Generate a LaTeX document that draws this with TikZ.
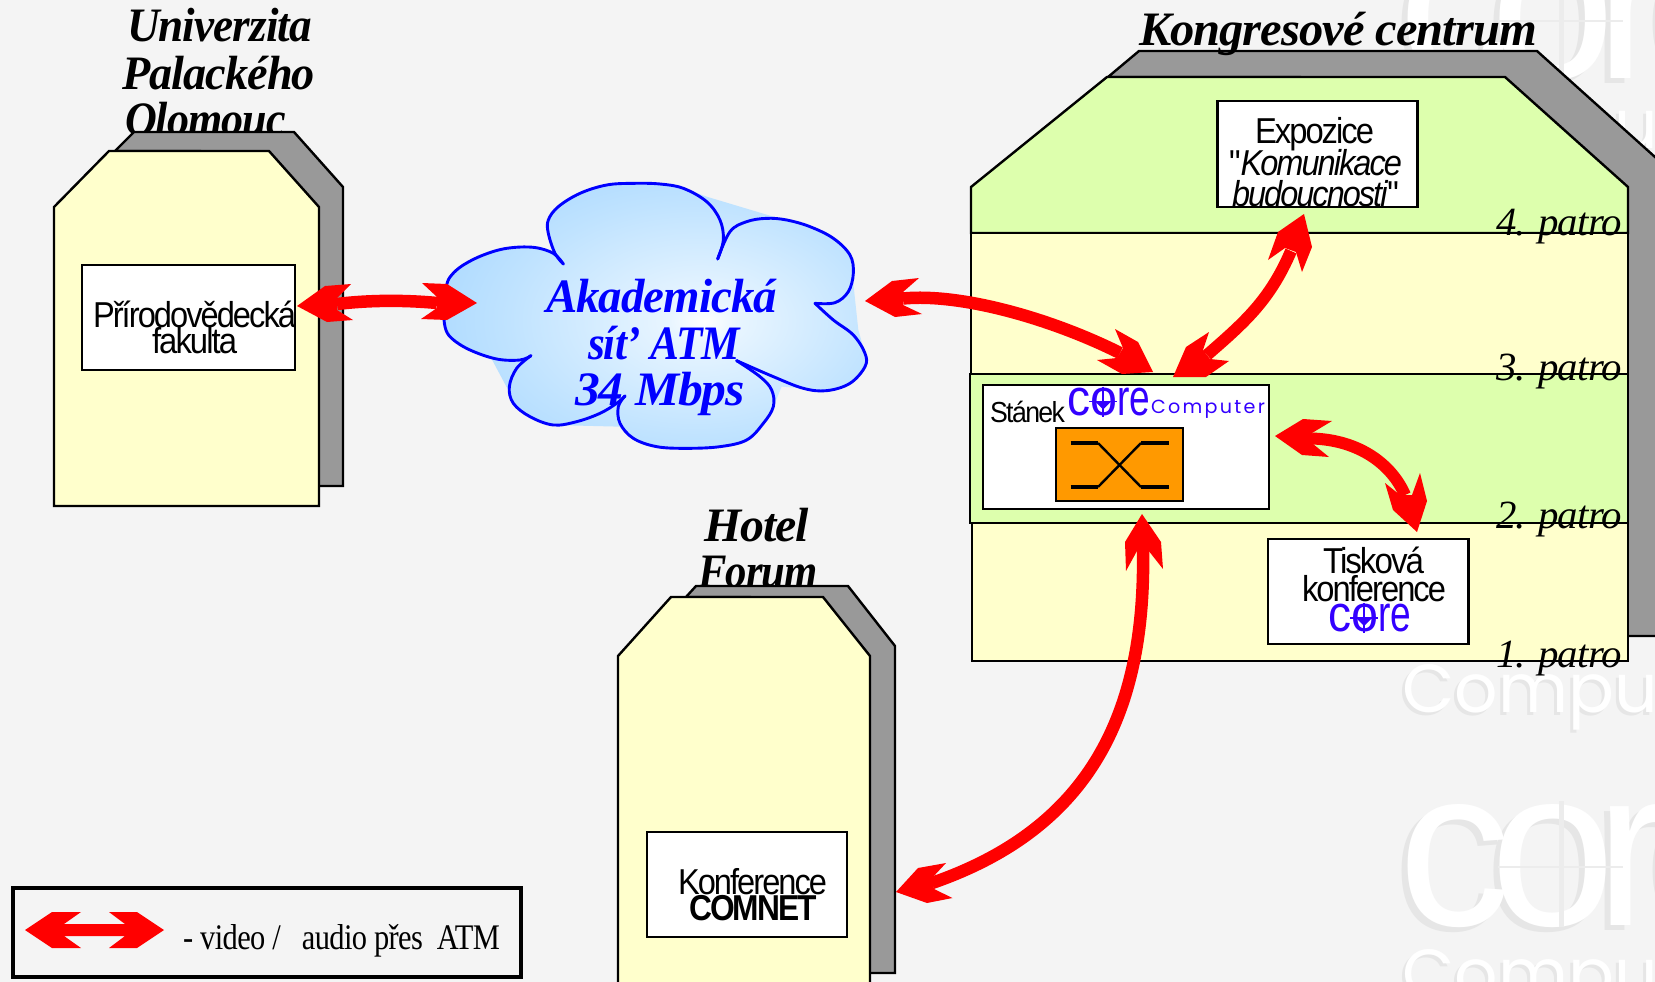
\documentclass[tikz,border=0pt]{standalone}
\usepackage{fontspec}
\usepackage{graphicx}
\setmainfont{Liberation Serif}
\newfontfamily\tmf[LetterSpace=-2]{Liberation Serif}
\newfontfamily\arf[LetterSpace=-6]{Liberation Sans}
\newfontfamily\arplain{Liberation Sans}
\newfontfamily\wmf[LetterSpace=-9]{Liberation Sans}
\newfontfamily\popf{Poppins}
\newfontfamily\popsp[LetterSpace=12]{Poppins}
\definecolor{bgc}{HTML}{F4F4F4}
\definecolor{paley}{HTML}{FFFFCC}
\definecolor{paleg}{HTML}{DDFFAD}
\definecolor{shadeg}{HTML}{999999}
\definecolor{orangeb}{HTML}{FF9900}
\definecolor{logob}{HTML}{3300FF}
\definecolor{wmshadow}{HTML}{E6E6E6}
\definecolor{wmline}{HTML}{ECECEC}
\definecolor{cloudA}{RGB}{232,245,255}
\definecolor{cloudB}{RGB}{192,227,255}
\definecolor{cloudC}{RGB}{145,205,255}
\pgfdeclareradialshading{cloudsh}{\pgfpoint{6bp}{-1bp}}{%
  color(0bp)=(white); color(4bp)=(cloudA);
  color(22bp)=(cloudB);
  color(46bp)=(cloudC);
  color(100bp)=(cloudC)}
\tikzset{
  wall/.style={draw=black,line width=2.4pt,line join=miter},
  backwall/.style={wall,fill=shadeg},
  frontwall/.style={wall,fill=paley},
  greenwall/.style={wall,fill=paleg},
  whitebox/.style={draw=black,line width=2.4pt,fill=white,outer sep=0pt},
  redhead/.style={fill=red,draw=none},
  redshaft/.style={draw=red,line width=12.5pt},
  txtline/.style={anchor=base west,inner sep=0pt,outer sep=0pt},
  cloudline/.style={draw=blue,line width=2.9pt,line cap=round,line join=round},
}
% name, x0, x1, baseline, font, text
\newcommand\fitline[6]{\node[txtline] (#1) at (#2,#4) {\resizebox{\dimexpr#3pt-#2pt\relax}{\height}{#5#6}};}
\newcommand\bigtitle{\fontsize{48}{48}\selectfont\tmf\bfseries\itshape}
\newcommand\floorfont{\fontsize{40}{40}\selectfont\tmf\itshape}
\newcommand\sansbig{\fontsize{36}{36}\selectfont\arf}
\newcommand\corefont{\color{logob}\fontsize{51}{51}\selectfont\arplain}
\newcommand\wmcore{\fontsize{225}{225}\selectfont\wmf}
\newcommand\wmcomp{\fontsize{68}{68}\selectfont\popf}
% name, centre of the o: x, y
\newcommand\corelogo[3]{%
  \pgfmathsetmacro\lxa{#2-36}\pgfmathsetmacro\lyb{#3+13.5}%
  \node[txtline] (#1) at (\lxa,\lyb) {\corefont\resizebox{23pt}{\height}{c}\resizebox{27pt}{\height}{o}\resizebox{33pt}{\height}{re}};
  \draw[logob,line width=1.2pt] (#2,#3-15) -- (#2,#3+15) (#2-14,#3) -- (#2+14,#3);
  \fill[logob] (#2-8,#3) -- (#2+8,#3) -- (#2,#3+8) -- cycle;
}
\begin{document}
\begin{tikzpicture}[x=1pt,y=-1pt]
\useasboundingbox (0,0) rectangle (1655,982);
\fill[bgc] (0,0) rectangle (1655,982);

% ---- watermark
\begin{scope}
\clip (0,0) rectangle (1655,982);
\node[txtline,text=wmshadow] (wmcoreAs) at (1392,84) {\wmcore core};
\node[txtline,text=white] (wmcoreA) at (1398,79) {\wmcore core};
\draw[wmline,line width=5pt] (1561,-45) -- (1561,81);
\draw[wmline,line width=2pt] (1498,21) -- (1623,21);
\node[txtline,text=wmshadow] (wmcompAs) at (1399,151) {\wmcomp Computer};
\node[txtline,text=white] (wmcompA) at (1402,148) {\wmcomp Computer};
\node[txtline,text=wmshadow] (wmcompBs) at (1399,715) {\wmcomp Computer};
\node[txtline,text=white] (wmcompB) at (1402,712) {\wmcomp Computer};
\node[txtline,text=wmshadow] (wmcoreBs) at (1392,930) {\wmcore core};
\node[txtline,text=white] (wmcoreB) at (1398,925) {\wmcore core};
\draw[wmline,line width=5pt] (1561,801) -- (1561,927);
\draw[wmline,line width=2pt] (1498,867) -- (1623,867);
\node[txtline,text=wmshadow] (wmcompCs) at (1399,1000) {\wmcomp Computer};
\node[txtline,text=white] (wmcompC) at (1402,997) {\wmcomp Computer};
\end{scope}

% ---- left building
\fitline{uni1}{127}{312}{42}{\bigtitle}{Univerzita}
\fitline{uni2}{122}{315}{89}{\bigtitle}{Palackého}
\fitline{uni3}{125}{286}{135}{\bigtitle}{Olomouc}
\draw[backwall] (115,151) -- (134,132) -- (294,132) -- (343,187) -- (343,486) -- (200,486) -- (200,151) -- cycle;
\draw[frontwall] (54,506) -- (54,207) -- (109,151) -- (269,151) -- (319,207) -- (319,506) -- cycle;
\node[whitebox,minimum width=213pt,minimum height=105pt,anchor=north west,inner sep=0pt] (prf) at (82,265) {};
\fitline{prf1}{93}{296}{327}{\sansbig}{Přírodovědecká}
\fitline{prf2}{152}{237}{353}{\sansbig}{fakulta}

% ---- hotel
\fitline{hot1}{704}{809}{541}{\bigtitle}{Hotel}
\fitline{hot2}{698}{818}{587}{\bigtitle}{Forum}
\draw[backwall] (686,597) -- (696,586) -- (848,586) -- (895,646) -- (895,973) -- (750,973) -- (750,597) -- cycle;
\draw[frontwall] (618,984) -- (618,656) -- (671,597) -- (823,597) -- (870,656) -- (870,984);
\node[whitebox,minimum width=200pt,minimum height=105pt,anchor=north west,inner sep=0pt] (conf) at (647,832) {};
\fitline{conf1}{678}{827}{894}{\sansbig}{Konference}
\fitline{conf2}{689}{817}{920}{\sansbig\bfseries}{COMNET}

% ---- congress centre
\draw[backwall] (1108,77) -- (1139,51) -- (1537,51) -- (1665,166) -- (1665,636) -- (1300,636) -- (1300,77) -- cycle;
\draw[greenwall] (971,233) -- (971,187) -- (1107,77) -- (1505,77) -- (1628,187) -- (1628,233) -- cycle;
\draw[frontwall] (971,233) rectangle (1628,374);
\draw[frontwall] (972,523) rectangle (1628,661);
\draw[greenwall] (970,374) rectangle (1628,523);
\fitline{kong}{1139}{1537}{46}{\bigtitle}{Kongresové centrum}
\node[whitebox,minimum width=200pt,minimum height=106pt,anchor=north west,inner sep=0pt] (expo) at (1217.5,101) {};
\fitline{expo1}{1255}{1374}{143}{\sansbig}{Expozice}
\fitline{expo2}{1229}{1402}{175}{\sansbig}{"\itshape Komunikace}
\fitline{expo3}{1232}{1399}{206}{\sansbig}{\itshape budoucnosti\upshape"}
\node[whitebox,minimum width=286pt,minimum height=124pt,anchor=north west,inner sep=0pt] (stand) at (983,385) {};
\fitline{stan}{990}{1065}{422}{\fontsize{29}{29}\selectfont\arf}{Stánek}
\corelogo{logoA}{1103}{401.5}
\node[txtline,text=logob] (compu) at (1151,413) {\resizebox{114pt}{\height}{\fontsize{19}{19}\selectfont\popsp Computer}};
\node[draw=black,line width=2.4pt,fill=orangeb,minimum width=127pt,minimum height=73pt,anchor=north west,inner sep=0pt,outer sep=0pt] (switch) at (1056,428) {};
\draw[black,line width=3.4pt] (1070.5,443) -- (1098,443) (1070.5,487) -- (1098,487) (1141,443) -- (1168.5,443) (1141,487) -- (1168.5,487);
\draw[black,line width=2.4pt] (1098,443) -- (1141,487) (1098,487) -- (1141,443);
\node[whitebox,minimum width=200.5pt,minimum height=105pt,anchor=north west,inner sep=0pt] (press) at (1268,539) {};
\fitline{pres1}{1323}{1424}{573}{\sansbig}{Tisková}
\fitline{pres2}{1302}{1446}{601}{\sansbig}{konference}
\corelogo{logoB}{1364}{618}
\fitline{fl4}{1496}{1622}{235}{\floorfont}{4. patro}
\fitline{fl3}{1496}{1622}{380}{\floorfont}{3. patro}
\fitline{fl2}{1496}{1622}{528}{\floorfont}{2. patro}
\fitline{fl1}{1496}{1622}{667}{\floorfont}{1. patro}

% ---- cloud
\begin{scope}[x=0.33333pt,y=-0.33333pt,shift={(1260,480)}]
\path[shading=cloudsh] (430,312) -- (400,280) -- (340,262) -- (260,265) -- (190,285) -- (130,315) -- (95,345) -- (80,375) -- (72,440) -- (75,500) -- (95,535) -- (150,570) -- (215,597) -- (270,700) -- (280,730) -- (330,770) -- (400,795) -- (600,800) -- (640,835) -- (710,860) -- (800,865) -- (900,860) -- (980,840) -- (1030,790) -- (1060,740) -- (1085,680) -- (1150,685) -- (1220,692) -- (1290,670) -- (1335,620) -- (1335,580) -- (1315,510) -- (1300,370) -- (1300,340) -- (1290,285) -- (1240,235) -- (1170,200) -- (1100,180) -- (1060,170) -- (860,110) -- (790,85) -- (720,72) -- (640,70) -- (560,75) -- (480,100) -- (415,140) -- (385,180) -- (385,220) -- (405,280) -- cycle;
\draw[cloudline] plot[smooth,tension=0.6] coordinates {(430,312) (400,280) (340,262) (260,265) (190,285) (130,315) (95,345) (80,375) (72,440) (75,500) (95,535) (150,570) (230,597) (300,600) (333,587)};
\draw[cloudline] plot[smooth,tension=0.6] coordinates {(333,587) (290,625) (268,680) (280,730) (330,770) (400,795) (470,785) (540,760) (590,730) (615,708)};
\draw[cloudline] plot[smooth,tension=0.6] coordinates {(615,708) (595,740) (600,790) (640,835) (710,860) (800,865) (900,860) (980,840) (1030,790) (1060,740) (1055,690) (1020,650) (950,602)};
\draw[cloudline] plot[smooth,tension=0.6] coordinates {(950,602) (1060,650) (1150,685) (1220,692) (1290,670) (1335,620) (1335,580) (1300,525) (1240,480) (1185,430)};
\draw[cloudline] plot[smooth,tension=0.6] coordinates {(1185,430) (1245,428) (1285,395) (1300,340) (1290,285) (1240,235) (1170,200) (1100,180) (1040,175) (980,185) (930,215) (893,297)};
\draw[cloudline] plot[smooth,tension=0.6] coordinates {(893,297) (910,240) (900,180) (860,125) (790,85) (720,72) (640,70) (560,75) (480,100) (415,140) (385,180) (385,220) (405,280) (430,312)};
\end{scope}
\fitline{cl1}{546}{777}{312}{\color{blue}\bigtitle}{Akademická}
\fitline{cl2}{588}{740}{359}{\color{blue}\bigtitle}{sít’ ATM}
\fitline{cl3}{575}{745}{405}{\color{blue}\bigtitle}{34 Mbps}

% ---- red connectors
\coordinate (a1l) at (337,304);
\coordinate (a1r) at (437,303);
\draw[redshaft] (a1l) .. controls (370,300) and (405,300) .. (a1r);
\fill[redhead] (297,306) -- (325,286) -- (351,284) -- (337,298) -- (337,310) -- (353,320) -- (327,322) -- cycle;
\fill[redhead] (477,303) -- (447,284) -- (422,283) -- (437,297) -- (437,308) -- (421,319) -- (447,320) -- cycle;

\coordinate (a2l) at (903,298.5);
\coordinate (a2r) at (1120,353);
\draw[redshaft] (a2l) .. controls (960,293) and (1050,318) .. (a2r);
\fill[redhead] (865,301) -- (892,281) -- (919,278) -- (903,292) -- (903,305) -- (922,314) -- (895,317) -- cycle;
\fill[redhead] (1153,372) -- (1138,342) -- (1115,329) -- (1123,348) -- (1117,358) -- (1097,360) -- (1122,374) -- cycle;

\coordinate (a3t) at (1291,251);
\coordinate (a3b) at (1207,355);
\draw[redshaft,line width=12pt] (a3t) .. controls (1270,300) and (1245,322) .. (a3b);
\fill[redhead] (1304,214) -- (1312,247) -- (1302,272) -- (1296,252) -- (1285,248) -- (1268,260) -- (1278,232) -- cycle;
\fill[redhead] (1173,377) -- (1186,347) -- (1209,332) -- (1203,350) -- (1210,359) -- (1229,361) -- (1206,377) -- cycle;

\coordinate (a4l) at (1312,438.5);
\coordinate (a4r) at (1405,495);
\draw[redshaft,line width=12pt] (a4l) .. controls (1360,440) and (1392,465) .. (a4r);
\fill[redhead] (1275,436) -- (1303,419) -- (1332,421) -- (1312,433) -- (1313,444) -- (1329,457) -- (1302,455) -- cycle;
\fill[redhead] (1417,532) -- (1427,501) -- (1420,473) -- (1412,495) -- (1400,495) -- (1385,483) -- (1393,510) -- cycle;

\coordinate (a5t) at (1143,550);
\coordinate (a5b) at (932,883);
\draw[redshaft] (a5t) .. controls (1146,720) and (1085,830) .. (a5b);
\fill[redhead] (1142,514) -- (1161,542) -- (1163,569) -- (1148,550) -- (1137.5,550) -- (1126,571) -- (1125,542) -- cycle;
\fill[redhead] (896,892) -- (918,868) -- (946,863) -- (932,878) -- (934,889) -- (952.5,898) -- (927,903) -- cycle;

% ---- legend
\node[draw=black,line width=3.6pt,minimum width=508pt,minimum height=89pt,anchor=north west,inner sep=0pt,outer sep=0pt] (legend) at (13,888) {};
\fill[redhead] (25,930) -- (52,912) -- (81,912) -- (64,924) -- (125,924) -- (109,912) -- (137,912) -- (164,930) -- (137,948) -- (109,948) -- (125,936) -- (64,936) -- (81,948) -- (52,948) -- cycle;
\fitline{legt}{183}{500}{949}{\fontsize{36}{36}\selectfont\tmf}{- video / \ \ audio přes \ ATM}
\end{tikzpicture}
\end{document}
